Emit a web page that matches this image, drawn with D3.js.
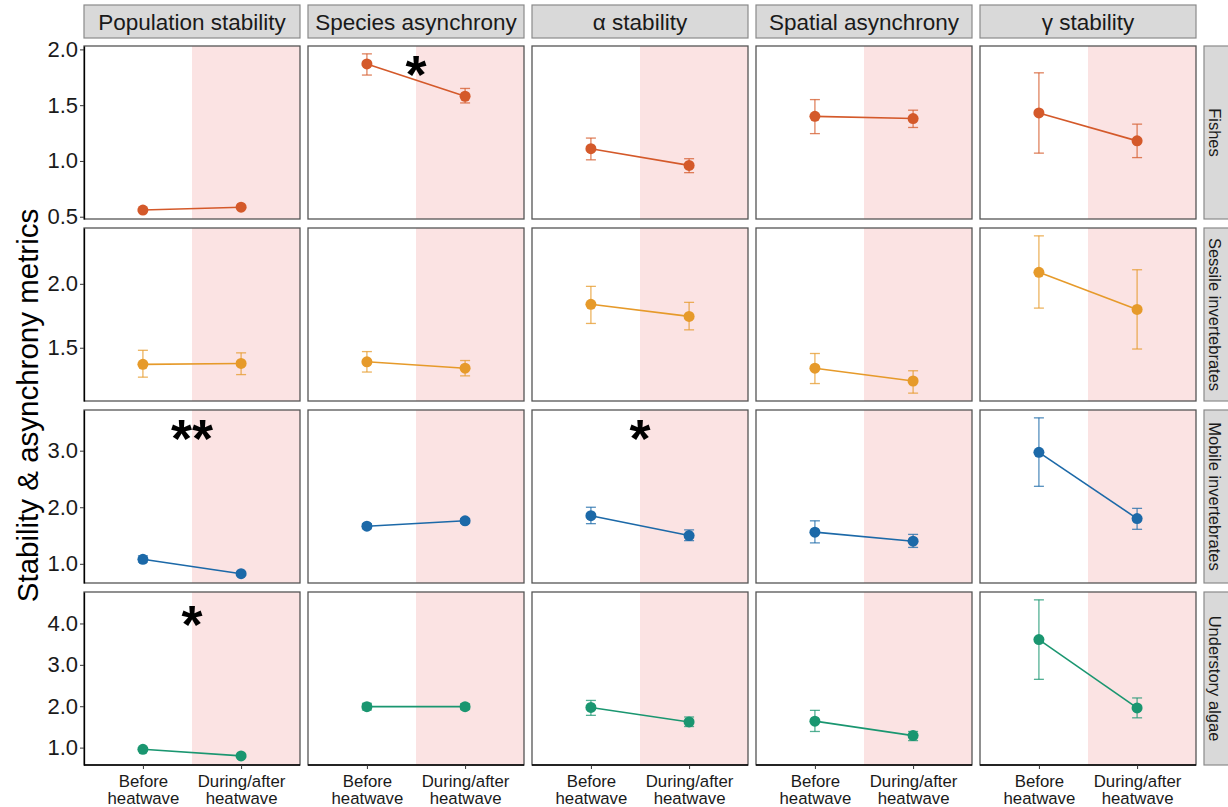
<!DOCTYPE html>
<html>
<head>
<meta charset="utf-8">
<script src="https://cdn.jsdelivr.net/npm/d3@7"></script>
<style>
  body { margin: 0; background: #fff; }
  svg text { font-family: "Liberation Sans", Arial, sans-serif; }
</style>
</head>
<body>
<svg id="chart" width="1228" height="807"></svg>
<script>
'use strict';

// facets
var groups = ['Fishes', 'Sessile invertebrates', 'Mobile invertebrates', 'Understory algae'];
var metrics = ['Population stability', 'Species asynchrony', '\u03b1 stability', 'Spatial asynchrony', '\u03b3 stability'];
var periods = ['Before heatwave', 'During/after heatwave'];
var groupColors = ['#d4592a', '#e69a2a', '#1c69a8', '#1a9670'];

// [before, after] per metric, in the order of metrics
var fishesMean = [[0.56, 0.585], [1.87, 1.58], [1.11, 0.96], [1.40, 1.38], [1.43, 1.18]];
var fishesLo   = [[0.55, 0.575], [1.77, 1.52], [1.01, 0.895], [1.245, 1.30], [1.07, 1.03]];
var fishesHi   = [[0.57, 0.595], [1.96, 1.65], [1.205, 1.02], [1.55, 1.455], [1.79, 1.33]];

var sessileMean = [[1.37, 1.377], [1.39, 1.34], [1.84, 1.745], [1.34, 1.24], [2.09, 1.80]];
var sessileLo   = [[1.27, 1.29], [1.31, 1.28], [1.69, 1.64], [1.22, 1.145], [1.81, 1.49]];
var sessileHi   = [[1.48, 1.46], [1.47, 1.40], [1.98, 1.855], [1.455, 1.32], [2.375, 2.11]];

var mobileMean = [[1.08, 0.825], [1.665, 1.76], [1.85, 1.50], [1.56, 1.40], [2.97, 1.80]];
var mobileLo   = [[1.03, 0.80], [1.62, 1.72], [1.71, 1.41], [1.37, 1.29], [2.37, 1.61]];
var mobileHi   = [[1.14, 0.85], [1.71, 1.80], [2.00, 1.60], [1.76, 1.52], [3.58, 1.98]];

var algaeMean = [[0.96, 0.80], [1.99, 1.99], [1.97, 1.62], [1.64, 1.29], [3.61, 1.96]];
var algaeLo   = [[0.92, 0.77], [1.91, 1.92], [1.78, 1.51], [1.39, 1.17], [2.65, 1.72]];
var algaeHi   = [[1.00, 0.83], [2.07, 2.06], [2.14, 1.74], [1.90, 1.39], [4.57, 2.20]];

// y tick values per row (free y scales)
var rowTicks = [[0.5, 1.0, 1.5, 2.0], [1.5, 2.0], [1, 2, 3], [1, 2, 3, 4]];

// significance marks: group index, metric index, label, y position (data units)
var sigGroup = [0, 2, 2, 3];
var sigMetric = [1, 0, 2, 0];
var sigLabel = ['*', '**', '*', '*'];
var sigY = [1.875, 3.41, 3.41, 4.26];

var allMean = [fishesMean, sessileMean, mobileMean, algaeMean];
var allLo = [fishesLo, sessileLo, mobileLo, algaeLo];
var allHi = [fishesHi, sessileHi, mobileHi, algaeHi];

var svg = d3.select('#chart');

var panelW = 216, panelH = 173;
var colX = function (j) { return 84 + j * 224; };
var rowY = function (i) { return 46 + i * 182; };

var x = d3.scalePoint().domain(periods).range([0, panelW]).padding(0.6);
var xMid = (x(periods[0]) + x(periods[1])) / 2;

// y scale per row, ggplot-like 5% expansion
var yScales = groups.map(function (g, i) {
  var vals = d3.merge(allLo[i].concat(allHi[i]));
  var ext = d3.extent(vals);
  var pad = (ext[1] - ext[0]) * 0.05;
  return d3.scaleLinear().domain([ext[0] - pad, ext[1] + pad]).range([panelH, 0]);
});

// top strips
metrics.forEach(function (m, j) {
  var s = svg.append('g').attr('transform', 'translate(' + colX(j) + ',5)');
  s.append('rect').attr('width', panelW).attr('height', 33)
    .attr('fill', '#d9d9d9').attr('stroke', '#8a8a8a').attr('stroke-width', 1.2);
  s.append('text').attr('x', panelW / 2).attr('y', 17).attr('dy', '0.35em')
    .attr('text-anchor', 'middle').attr('font-size', 22.5).attr('fill', '#1a1a1a').text(m);
});

// right strips
groups.forEach(function (g, i) {
  var s = svg.append('g').attr('transform', 'translate(1204,' + rowY(i) + ')');
  s.append('rect').attr('width', 32).attr('height', panelH)
    .attr('fill', '#d9d9d9').attr('stroke', '#8a8a8a').attr('stroke-width', 1.2);
  s.append('text').attr('transform', 'translate(11,' + (panelH / 2) + ') rotate(90)')
    .attr('dy', '0.35em').attr('text-anchor', 'middle').attr('font-size', 16.5)
    .attr('fill', '#1a1a1a').text(g);
});

groups.forEach(function (g, i) {
  var y = yScales[i];
  var col = groupColors[i];
  metrics.forEach(function (m, j) {
    var p = svg.append('g').attr('transform', 'translate(' + colX(j) + ',' + rowY(i) + ')');

    p.append('rect').attr('x', xMid).attr('width', panelW - xMid).attr('height', panelH)
      .attr('fill', '#fbe3e3');

    var pts = periods.map(function (per, k) {
      return { per: per, mean: allMean[i][j][k], lo: allLo[i][j][k], hi: allHi[i][j][k] };
    });

    // error bars
    var eb = p.append('g').attr('stroke', col).attr('stroke-opacity', 0.75).attr('stroke-width', 1.3);
    pts.forEach(function (d) {
      var cx = x(d.per);
      eb.append('line').attr('x1', cx).attr('x2', cx).attr('y1', y(d.lo)).attr('y2', y(d.hi));
      eb.append('line').attr('x1', cx - 5).attr('x2', cx + 5).attr('y1', y(d.lo)).attr('y2', y(d.lo));
      eb.append('line').attr('x1', cx - 5).attr('x2', cx + 5).attr('y1', y(d.hi)).attr('y2', y(d.hi));
    });

    p.append('path').datum(pts)
      .attr('d', d3.line().x(function (d) { return x(d.per); }).y(function (d) { return y(d.mean); }))
      .attr('fill', 'none').attr('stroke', col).attr('stroke-width', 1.6);

    p.selectAll('circle').data(pts).join('circle')
      .attr('cx', function (d) { return x(d.per); })
      .attr('cy', function (d) { return y(d.mean); })
      .attr('r', 5.5).attr('fill', col);

    p.append('rect').attr('width', panelW).attr('height', panelH)
      .attr('fill', 'none').attr('stroke', '#555').attr('stroke-width', 1.3);

    if (j === 0) {
      var ay = p.append('g').call(d3.axisLeft(y).tickValues(rowTicks[i]).tickFormat(d3.format('.1f')).tickSize(4).tickSizeOuter(0));
      ay.select('.domain').attr('stroke', '#000').attr('stroke-width', 1.3);
      ay.selectAll('.tick line').attr('stroke', '#333');
      ay.selectAll('.tick text').attr('font-size', 22).attr('fill', '#1a1a1a').attr('x', -6);
      ay.attr('font-family', null);
    }
    if (i === groups.length - 1) {
      var ax = p.append('g').attr('transform', 'translate(0,' + panelH + ')')
        .call(d3.axisBottom(x).tickSize(4).tickSizeOuter(0).tickFormat(''));
      ax.select('.domain').attr('stroke', '#000').attr('stroke-width', 1.3).attr('d', 'M0,0H' + panelW);
      ax.selectAll('.tick line').attr('stroke', '#333');
      ax.selectAll('.tick').each(function (d) {
        var t = d3.select(this).append('text').attr('text-anchor', 'middle')
          .attr('font-size', 16.8).attr('fill', '#1a1a1a');
        var words = d.split(' ');
        t.append('tspan').attr('x', 0).attr('y', 22).text(words[0]);
        t.append('tspan').attr('x', 0).attr('y', 39).text(words[1]);
      });
    }
  });
});

// significance asterisks
sigLabel.forEach(function (lab, n) {
  var i = sigGroup[n], j = sigMetric[n];
  svg.append('text')
    .attr('x', colX(j) + xMid)
    .attr('y', rowY(i) + yScales[i](sigY[n]) + 30)
    .attr('text-anchor', 'middle').attr('font-size', 54).attr('font-weight', 'bold')
    .attr('fill', '#000').text(lab);
});

// y title
svg.append('text')
  .attr('transform', 'translate(38,' + (46 + (3 * 182 + panelH) / 2) + ') rotate(-90)')
  .attr('text-anchor', 'middle').attr('font-size', 29.5).attr('fill', '#000')
  .text('Stability & asynchrony metrics');
</script>
</body>
</html>
